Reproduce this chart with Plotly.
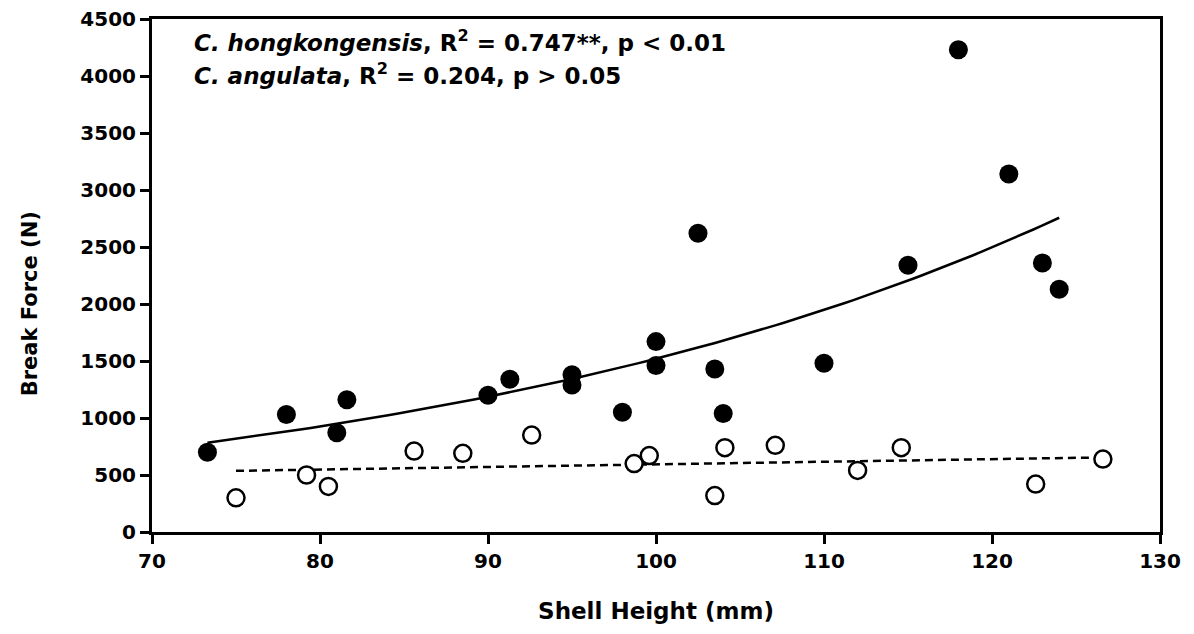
import numpy as np
import plotly.graph_objects as go

# C. hongkongensis (filled)
hk_height = [73.3, 78.0, 81.0, 81.6, 90.0, 91.3, 95.0, 95.0, 98.0, 100.0,
             100.0, 102.5, 103.5, 104.0, 110.0, 115.0, 118.0, 121.0, 123.0, 124.0]
hk_force = [700, 1030, 870, 1160, 1200, 1340, 1380, 1290, 1050, 1670,
            1460, 2620, 1430, 1040, 1480, 2340, 4230, 3140, 2360, 2130]

# C. angulata (open)
ca_height = [75.0, 79.2, 80.5, 85.6, 88.5, 92.6, 98.7, 99.6, 103.5, 104.1,
             107.1, 112.0, 114.6, 122.6, 126.6]
ca_force = [300, 500, 400, 710, 690, 850, 600, 670, 320, 740,
            760, 540, 740, 420, 640]

x_ticks = [70, 80, 90, 100, 110, 120, 130]
y_ticks = [0, 500, 1000, 1500, 2000, 2500, 3000, 3500, 4000, 4500]

# fitted trend lines
hx = np.array(hk_height)
b, ln_a = np.polyfit(hx, np.log(hk_force), 1)
hk_fit_x = np.linspace(hx.min(), hx.max(), 100)
hk_fit_y = np.exp(ln_a) * np.exp(b * hk_fit_x)

cx = np.array(ca_height)
m, c = np.polyfit(cx, ca_force, 1)
ca_fit_x = np.array([cx.min(), cx.max()])
ca_fit_y = m * ca_fit_x + c

fig = go.Figure()
fig.add_trace(go.Scatter(x=hk_fit_x, y=hk_fit_y, mode="lines",
                         line=dict(color="black", width=2.5), hoverinfo="skip"))
fig.add_trace(go.Scatter(x=ca_fit_x, y=ca_fit_y, mode="lines",
                         line=dict(color="black", width=2.5, dash="8px,5px"), hoverinfo="skip"))
fig.add_trace(go.Scatter(x=hk_height, y=hk_force, mode="markers", name="C. hongkongensis",
                         marker=dict(color="black", size=19, line=dict(width=0))))
fig.add_trace(go.Scatter(x=ca_height, y=ca_force, mode="markers", name="C. angulata",
                         marker=dict(color="white", size=17, line=dict(color="black", width=2.5))))

family = "DejaVu Sans, Arial"
tick_font = dict(family=family, size=20, color="black", weight="bold")
title_font = dict(family=family, size=23, color="black", weight="bold")

fig.add_annotation(x=72.4, y=4310, xanchor="left", yanchor="middle", showarrow=False,
                   text="<i>C. hongkongensis</i>, R<sup>2</sup> = 0.747**, p < 0.01",
                   font=title_font)
fig.add_annotation(x=72.4, y=4020, xanchor="left", yanchor="middle", showarrow=False,
                   text="<i>C. angulata</i>, R<sup>2</sup> = 0.204, p > 0.05",
                   font=title_font)
# y axis title placed as annotation to match its offset position
fig.add_annotation(xref="paper", yref="paper", x=-0.121, y=0.444, textangle=-90,
                   xanchor="center", yanchor="middle", showarrow=False,
                   text="Break Force (N)", font=dict(family=family, size=21,
                                                     color="black", weight="bold"))

axis_common = dict(showgrid=False, zeroline=False, showline=True, linecolor="black",
                   linewidth=3, mirror=True, ticks="outside", ticklen=9, tickwidth=3,
                   tickcolor="black", tickfont=tick_font, automargin=False,
                   ticklabeloverflow="allow")
fig.update_xaxes(range=[70, 130], tickvals=x_ticks,
                 title=dict(text="Shell Height (mm)", font=title_font, standoff=31), **axis_common)
fig.update_yaxes(range=[0, 4500], tickvals=y_ticks, **axis_common)

# page body has an 8px margin, so the figure is sized to fit inside it
fig.update_layout(
    width=1178, height=618,
    margin=dict(l=144, r=26, t=11, b=94),
    plot_bgcolor="white", paper_bgcolor="white",
    showlegend=False,
)
fig.write_html("out.html")
